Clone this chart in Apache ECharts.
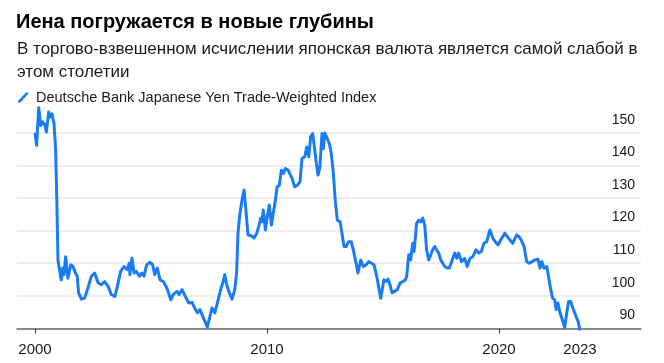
<!DOCTYPE html>
<html>
<head>
<meta charset="utf-8">
<script src="https://cdn.jsdelivr.net/npm/echarts@6/dist/echarts.min.js"></script>
<style>
html,body{margin:0;padding:0;background:#fff;}
#chart{width:664px;height:363px;}
</style>
</head>
<body>
<div id="chart"></div>
<script>
// Chart content
const titleText = 'Иена погружается в новые глубины';
const subtitleText = 'В торгово-взвешенном исчислении японская валюта является самой слабой в\nэтом столетии';
const seriesName = 'Deutsche Bank Japanese Yen Trade-Weighted Index';

// Dates (decimal years) and index values
const dates = [
2000.00,2000.07,2000.16,2000.25,2000.33,2000.42,2000.49,2000.59,2000.65,2000.73,2000.82,2000.89,2000.94,2000.99,
2001.06,2001.13,2001.19,2001.25,2001.32,2001.42,2001.54,2001.64,2001.74,2001.82,2001.88,
2002.00,2002.14,2002.28,2002.43,2002.57,2002.72,2002.86,
2003.00,2003.15,2003.29,2003.44,2003.55,2003.69,2003.84,2003.98,
2004.06,2004.09,2004.18,2004.27,2004.37,2004.50,2004.61,2004.70,2004.81,2004.96,
2005.07,2005.16,2005.27,2005.39,2005.53,2005.65,2005.73,2005.85,2005.95,
2006.02,2006.12,2006.21,2006.34,2006.48,2006.63,2006.77,2006.88,
2007.00,2007.11,2007.23,2007.31,2007.43,2007.54,2007.63,2007.75,2007.86,2007.92,
2008.00,2008.09,2008.18,2008.26,2008.38,2008.49,2008.61,2008.69,2008.75,2008.82,2008.92,
2009.01,2009.09,2009.18,2009.32,2009.44,2009.56,2009.64,2009.73,2009.78,2009.84,2009.93,
2010.01,2010.10,2010.19,2010.25,2010.36,2010.44,2010.53,2010.62,2010.70,2010.79,2010.91,2010.99,
2011.08,2011.19,2011.31,2011.42,2011.51,2011.63,2011.71,2011.80,2011.88,2011.97,
2012.03,2012.11,2012.20,2012.28,2012.37,2012.43,2012.49,2012.60,2012.69,2012.77,2012.86,2012.94,
2013.03,2013.15,2013.23,2013.32,2013.41,2013.52,2013.63,2013.72,2013.81,2013.92,
2014.04,2014.15,2014.27,2014.38,2014.50,2014.61,2014.73,2014.81,2014.90,2014.96,
2015.04,2015.13,2015.22,2015.30,2015.39,2015.50,2015.62,2015.73,2015.85,2015.96,
2016.02,2016.11,2016.19,2016.28,2016.34,2016.45,2016.54,2016.63,2016.71,2016.80,2016.88,2016.97,
2017.06,2017.14,2017.23,2017.31,2017.40,2017.49,2017.57,2017.66,2017.77,2017.86,2017.94,
2018.09,2018.18,2018.26,2018.38,2018.52,2018.63,2018.75,2018.87,
2019.01,2019.13,2019.24,2019.35,2019.47,2019.61,2019.73,2019.84,2019.96,
2020.07,2020.25,2020.33,2020.47,2020.59,2020.76,2020.85,2020.96,
2021.08,2021.19,2021.31,2021.39,2021.54,2021.68,2021.77,2021.85,2021.94,
2022.06,2022.14,2022.23,2022.31,2022.40,2022.46,2022.54,2022.63,2022.75,2022.83,2022.92,
2023.00,2023.09,2023.18,2023.26,2023.35,2023.41,2023.49
];
const values = [
150,146.1,157.6,152.2,153.3,152.5,150.2,156.3,154.8,155.8,152.7,144.6,129.3,111,
110.5,104.9,108.5,106.5,112,105.4,109.5,109,107,106,100.9,
99,99.3,102.4,106,107,104,103.4,
104.4,102.9,100.4,99.8,102.9,107.5,109,108,
110,106.5,111.5,107,107.5,106,107,106,109.5,110.3,
109.5,106.5,108.5,104.9,104.4,102.9,101.5,98.8,100.4,
99.8,101.4,100.4,101.9,99.8,97.8,98,96.3,
94.8,95.8,93.7,93.7,90.4,93.7,96.3,94.8,97.8,97.8,
101.9,103.9,106.5,103.4,100.9,99,101.9,107,119.2,124.5,129.3,
132.4,126.3,118.7,118.4,117.7,119.2,121.2,123.8,122.7,126.3,120.2,
124.2,127.8,121.7,121.7,129.3,133.4,133.9,138.5,137.5,139,138.5,139,
136,133.4,133.9,134.9,142.1,142.6,145.6,142.6,148.7,149.7,
150.2,141.6,137,139.5,149.7,145.1,149.9,148.2,146.6,143.6,137.5,129.3,
123.2,122.7,119.2,115.1,115.1,116.6,116.6,114.1,111,107,
111,109,109.5,110.5,110,109.5,106,102.9,99.3,99.8,
104.9,104.4,105.1,103.4,100.9,101.4,101.9,103.9,104.4,104.9,
106,112.6,111,116.1,113.6,122.2,123.2,122.7,123.8,121.7,114.1,111,
112.6,114.1,115.1,114.1,113.1,111,110.5,109,108.5,108.5,108,
113.1,111.5,113.1,110.5,111.5,109,111.5,112,
114.1,113.1,113.6,116.1,116.6,120.2,117.7,116.6,115.6,
117.1,119.2,119.2,117.1,116.1,118.7,118.2,117.1,
115.1,110.5,110,109.5,111,111.2,108.5,110.5,108.5,
109,108.5,101.9,99.3,98.8,95.8,97.8,94.8,92.2,90.2,94.8,
98.3,98.3,96.3,96.3,93.2,92.2,89.4
];

// Axis ticks and labels
const xTickYears = [2000, 2010, 2020];
const xLabelYears = [2000, 2010, 2020, 2023.49];
const yMin = 90, yMax = 160, yStep = 10;

const data = dates.map((d, i) => [d, values[i]]);

const chart = echarts.init(document.getElementById('chart'), null, {renderer: 'canvas'});
const FONT = 'Liberation Sans, Arial, Helvetica, sans-serif';
chart.setOption({
  animation: false,
  backgroundColor: '#ffffff',
  textStyle: {fontFamily: FONT},
  title: [
    {text: titleText, left: 11, top: 5,
     textStyle: {fontFamily: FONT, fontSize: 20, fontWeight: 'bold', color: '#000', lineHeight: 24}},
    {text: subtitleText, left: 12, top: 33,
     textStyle: {fontFamily: FONT, fontSize: 17, fontWeight: 'normal', color: '#1a1a1a', lineHeight: 23}}
  ],
  legend: {
    left: 13, top: 85,
    itemWidth: 10, itemHeight: 11,
    icon: 'path://M0,10 L2.5,10 L10,1.5 L10,0 L8,0 L0,8.5 Z',
    textStyle: {fontFamily: FONT, fontSize: 14.5, color: '#1a1a1a', padding: [0, 0, 0, 3]},
    data: [seriesName]
  },
  grid: {left: 17, right: 23, top: 100, bottom: 34.5, containLabel: false, outerBoundsMode: 'none'},
  xAxis: {
    type: 'value', min: 1999.224, max: 2026.12,
    axisLine: {show: true, lineStyle: {color: '#666', width: 1.5}},
    axisTick: {show: true, customValues: xTickYears, length: 5, lineStyle: {color: '#444', width: 1}},
    axisLabel: {customValues: xLabelYears, formatter: v => String(Math.floor(v)),
      fontFamily: FONT, fontSize: 15, color: '#1a1a1a', margin: 14},
    splitLine: {show: false}
  },
  yAxis: {
    type: 'value', position: 'right', min: yMin, max: yMax, interval: yStep,
    axisLine: {show: false}, axisTick: {show: false},
    axisLabel: {inside: true, margin: 6, showMaxLabel: false, verticalAlign: 'bottom',
      padding: [0, 0, 6, 0], fontFamily: FONT, fontSize: 14, color: '#1a1a1a'},
    splitLine: {show: true, showMaxLine: false, showMinLine: false, lineStyle: {color: '#e8e8e8', width: 1.5}}
  },
  series: [{
    name: seriesName, type: 'line', data: data, showSymbol: false, clip: false,
    color: '#1a7cf5',
    lineStyle: {color: '#1a7cf5', width: 3, join: 'round'}
  }]
});
</script>
</body>
</html>
